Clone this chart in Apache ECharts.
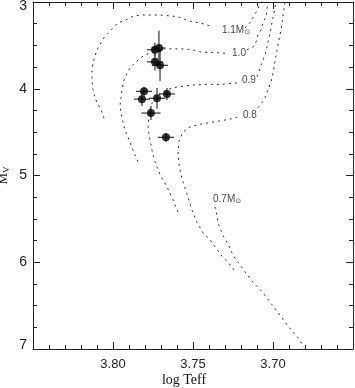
<!DOCTYPE html>
<html>
<head>
<meta charset="utf-8">
<script src="https://cdn.jsdelivr.net/npm/echarts@6/dist/echarts.min.js"></script>
<style>
  html, body { margin: 0; padding: 0; background: #fff; }
  #main { width: 355px; height: 388px; }
</style>
</head>
<body>
<div id="main"></div>
<script>
// evolutionary tracks [log Teff, Mv], null breaks the line where the label sits
var track11 = [
    [3.8056, 4.34], [3.8075, 4.24], [3.8100, 4.16], [3.8113, 4.10], [3.8125, 4.01],
    [3.8131, 3.90], [3.8131, 3.78], [3.8125, 3.70], [3.8113, 3.63], [3.8100, 3.55],
    [3.8075, 3.47], [3.8056, 3.41], [3.8031, 3.36], [3.8000, 3.30], [3.7969, 3.24],
    [3.7925, 3.21], [3.7881, 3.17], [3.7831, 3.15], [3.7769, 3.15], [3.7706, 3.15],
    [3.7644, 3.16], [3.7594, 3.17], [3.7550, 3.20], [3.7500, 3.23], [3.7456, 3.24],
    [3.7406, 3.27], [3.7375, 3.29],
    null,
    [3.7175, 3.30], [3.7144, 3.24], [3.7125, 3.18], [3.7106, 3.12], [3.7088, 3.05], [3.7069, 2.99]
];
var track10 = [
    [3.7844, 4.84], [3.7863, 4.76], [3.7881, 4.68], [3.7906, 4.56], [3.7925, 4.48],
    [3.7938, 4.38], [3.7950, 4.28], [3.7956, 4.19], [3.7950, 4.10], [3.7944, 4.01],
    [3.7931, 3.90], [3.7913, 3.82], [3.7894, 3.76], [3.7863, 3.70], [3.7831, 3.65],
    [3.7800, 3.61], [3.7756, 3.58], [3.7694, 3.54], [3.7631, 3.54], [3.7569, 3.54],
    [3.7506, 3.55], [3.7444, 3.58], [3.7381, 3.58], [3.7319, 3.59], [3.7275, 3.59],
    null,
    [3.7163, 3.55], [3.7125, 3.52], [3.7106, 3.46], [3.7094, 3.38], [3.7075, 3.32],
    [3.7063, 3.24], [3.7044, 3.17], [3.7038, 3.09], [3.7031, 3.00]
];
var track09 = [
    [3.7594, 5.42], [3.7625, 5.28], [3.7663, 5.13], [3.7706, 4.99], [3.7738, 4.84],
    [3.7756, 4.71], [3.7769, 4.59], [3.7781, 4.45], [3.7775, 4.30], [3.7763, 4.19],
    [3.7738, 4.11], [3.7706, 4.06], [3.7663, 4.01], [3.7600, 3.98], [3.7519, 3.96],
    [3.7425, 3.95], [3.7331, 3.95], [3.7206, 3.93],
    null,
    [3.7100, 3.86], [3.7088, 3.80], [3.7069, 3.70], [3.7050, 3.61], [3.7038, 3.52],
    [3.7025, 3.41], [3.7013, 3.30], [3.7000, 3.18], [3.6988, 3.07], [3.6981, 3.00]
];
var track08 = [
    [3.7244, 6.09], [3.7281, 6.00], [3.7319, 5.93], [3.7363, 5.82], [3.7394, 5.74],
    [3.7438, 5.66], [3.7475, 5.54], [3.7506, 5.40], [3.7531, 5.25], [3.7556, 5.11],
    [3.7575, 4.99], [3.7588, 4.86], [3.7594, 4.73], [3.7588, 4.61], [3.7563, 4.50],
    [3.7531, 4.45], [3.7500, 4.43], [3.7456, 4.41], [3.7394, 4.39], [3.7331, 4.37],
    [3.7269, 4.35], [3.7225, 4.33],
    null,
    [3.7094, 4.22], [3.7069, 4.16], [3.7050, 4.10], [3.7031, 4.01], [3.7013, 3.92],
    [3.7000, 3.82], [3.6988, 3.69], [3.6975, 3.55], [3.6963, 3.44], [3.6950, 3.32],
    [3.6938, 3.17], [3.6925, 3.00]
];
var track07 = [
    [3.7363, 5.36], [3.7350, 5.46], [3.7344, 5.54], [3.7331, 5.61], [3.7313, 5.69],
    [3.7288, 5.77], [3.7269, 5.84], [3.7250, 5.92], [3.7219, 6.00], [3.7175, 6.11],
    [3.7125, 6.23], [3.7063, 6.35], [3.7006, 6.49], [3.6956, 6.61], [3.6900, 6.75],
    [3.6844, 6.87], [3.6806, 6.98]
];

// track labels [log Teff, Mv, text]
var trackLabels = [
    [3.7319, 3.32, '{t|1.1M}{s|⊙}'],
    [3.7256, 3.59, '{t|1.0}'],
    [3.7194, 3.90, '{t|0.9}'],
    [3.7188, 4.30, '{t|0.8}'],
    [3.7375, 5.27, '{t|0.7M}{s|⊙}']
];

// stars [log Teff, Mv, err logT, err Mv]
var stars = [
    [3.7738, 3.55, 0.005, 0.08],
    [3.7713, 3.53, 0.004, 0.20],
    [3.7738, 3.69, 0.005, 0.10],
    [3.7706, 3.73, 0.005, 0.18],
    [3.7806, 4.03, 0.005, 0.05],
    [3.7819, 4.12, 0.005, 0.08],
    [3.7725, 4.11, 0.005, 0.12],
    [3.7663, 4.06, 0.005, 0.07],
    [3.7763, 4.28, 0.006, 0.08],
    [3.7669, 4.56, 0.005, 0.05]
];

var chart = echarts.init(document.getElementById('main'));

var trackStyle = { color: '#2a2a2a', width: 1, type: [2, 4] };
function trackSeries(data) {
    return {
        type: 'line', data: data, symbol: 'none', silent: true,
        connectNulls: false, lineStyle: trackStyle, z: 1
    };
}

var xBase = {
    type: 'value', min: 3.65, max: 3.85, interval: 0.05, inverse: true,
    axisLine: { onZero: false, lineStyle: { color: '#222', width: 1 } },
    axisTick: { inside: true, length: 7, lineStyle: { color: '#222' } },
    minorTick: { show: true, splitNumber: 5, length: 4, lineStyle: { color: '#222' } },
    splitLine: { show: false }
};
var yBase = {
    type: 'value', min: 3, max: 7, interval: 1, inverse: true,
    axisLine: { onZero: false, lineStyle: { color: '#222', width: 1 } },
    axisTick: { inside: true, length: 7, lineStyle: { color: '#222' } },
    minorTick: { show: true, splitNumber: 4, length: 4, lineStyle: { color: '#222' } },
    splitLine: { show: false }
};

var option = {
    backgroundColor: '#fff',
    animation: false,
    grid: { left: 33, right: 2, top: 2, bottom: 39, containLabel: false, outerBoundsMode: 'none' },
    xAxis: [
        Object.assign({}, xBase, {
            position: 'bottom',
            name: 'log Teff', nameLocation: 'middle', nameGap: 24, nameMoveOverlap: false,
            nameTextStyle: { fontFamily: 'Liberation Serif', fontSize: 14, color: '#111', padding: [0, 18, 0, 0] },
            axisLabel: {
                margin: 9, fontFamily: 'Liberation Sans', fontSize: 13, color: '#222',
                formatter: function (v) {
                    if (Math.abs(v - 3.65) < 1e-6 || Math.abs(v - 3.85) < 1e-6) return '';
                    return v.toFixed(2);
                }
            }
        }),
        Object.assign({}, xBase, { position: 'top', axisLabel: { show: false } })
    ],
    yAxis: [
        Object.assign({}, yBase, {
            position: 'left',
            name: '{m|M}{v|V}', nameLocation: 'middle', nameGap: 22, nameRotate: 90, nameMoveOverlap: false,
            nameTextStyle: {
                rich: {
                    m: { fontFamily: 'Liberation Serif', fontSize: 13, color: '#111' },
                    v: { fontFamily: 'Liberation Serif', fontSize: 9, color: '#111', padding: [6, 0, 0, 0] }
                }
            },
            axisLabel: {
                margin: 6, fontFamily: 'Liberation Sans', fontSize: 14, color: '#222',
                formatter: function (v) {
                    if (v === 3) return '{top|3}';
                    if (v === 7) return '{bot|7}';
                    return String(v);
                },
                rich: {
                    top: { fontFamily: 'Liberation Sans', fontSize: 14, color: '#222', padding: [8, 0, 0, 0] },
                    bot: { fontFamily: 'Liberation Sans', fontSize: 14, color: '#222', padding: [0, 0, 7, 0] }
                }
            }
        }),
        Object.assign({}, yBase, { position: 'right', axisLabel: { show: false } })
    ],
    series: [
        trackSeries(track11),
        trackSeries(track10),
        trackSeries(track09),
        trackSeries(track08),
        trackSeries(track07),
        {
            type: 'scatter', silent: true, symbolSize: 0, z: 2,
            data: trackLabels,
            label: {
                show: true, position: [0, 0], align: 'left', verticalAlign: 'middle',
                formatter: function (p) { return p.data[2]; },
                rich: {
                    t: { fontFamily: 'Liberation Sans', fontSize: 10, color: '#111' },
                    s: { fontFamily: 'DejaVu Sans', fontSize: 7, color: '#111', padding: [5, 0, 0, 0] }
                }
            }
        },
        {
            type: 'custom', silent: true, z: 3,
            data: stars,
            renderItem: function (params, api) {
                var x = api.value(0), y = api.value(1), ex = api.value(2), ey = api.value(3);
                var l = api.coord([x + ex, y]), r = api.coord([x - ex, y]);
                var t = api.coord([x, y - ey]), b = api.coord([x, y + ey]);
                var st = { stroke: '#333', lineWidth: 1.2 };
                return {
                    type: 'group',
                    children: [
                        { type: 'line', shape: { x1: l[0], y1: l[1], x2: r[0], y2: r[1] }, style: st },
                        { type: 'line', shape: { x1: t[0], y1: t[1], x2: b[0], y2: b[1] }, style: st }
                    ]
                };
            }
        },
        {
            type: 'scatter', silent: true, z: 4,
            data: stars.map(function (s) { return [s[0], s[1]]; }),
            symbol: 'circle', symbolSize: 8,
            itemStyle: { color: '#000' }
        }
    ]
};

chart.setOption(option);
</script>
</body>
</html>
